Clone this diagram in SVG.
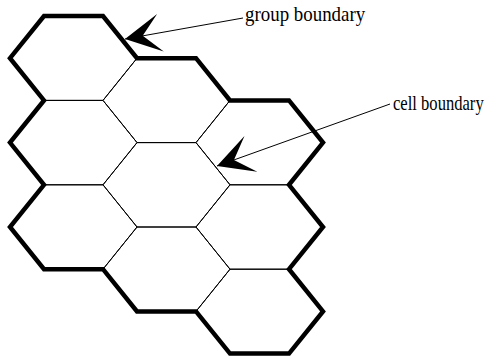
<svg xmlns="http://www.w3.org/2000/svg" width="497" height="359" viewBox="0 0 497 359">
<style>
.cell{fill:none;stroke:#000;stroke-width:1}
.group{fill:none;stroke:#000;stroke-width:4.5;stroke-linejoin:miter}
.lead{fill:none;stroke:#000;stroke-width:1}
.lbl{font-family:"Liberation Serif","DejaVu Serif",serif;font-size:21px;fill:#000}
</style>
<defs>
<marker id="ah" markerUnits="userSpaceOnUse" orient="auto" refX="0" refY="0" markerWidth="40" markerHeight="40" overflow="visible">
<path d="M0,0 L-36,-19 L-18,0 L-36,19 Z" fill="#000"/>
</marker>
</defs>
<rect width="497" height="359" fill="#fff"/>
<g id="cells">
<g id="c00"><polygon class="cell" points="10,58.2 44,16 103,16 137,58.2 103,100.4 44,100.4"/></g>
<g id="c01"><polygon class="cell" points="10,142.6 44,100.4 103,100.4 137,142.6 103,184.8 44,184.8"/></g>
<g id="c02"><polygon class="cell" points="10,227 44,184.8 103,184.8 137,227 103,269.2 44,269.2"/></g>
<g id="c10"><polygon class="cell" points="103,100.4 137,58.2 196,58.2 230,100.4 196,142.6 137,142.6"/></g>
<g id="c11"><polygon class="cell" points="103,184.8 137,142.6 196,142.6 230,184.8 196,227 137,227"/></g>
<g id="c12"><polygon class="cell" points="103,269.2 137,227 196,227 230,269.2 196,311.4 137,311.4"/></g>
<g id="c20"><polygon class="cell" points="196,142.6 230,100.4 289,100.4 323,142.6 289,184.8 230,184.8"/></g>
<g id="c21"><polygon class="cell" points="196,227 230,184.8 289,184.8 323,227 289,269.2 230,269.2"/></g>
<g id="c22"><polygon class="cell" points="196,311.4 230,269.2 289,269.2 323,311.4 289,353.6 230,353.6"/></g>
</g>
<g id="group-outline">
<polygon class="group" points="44,16 103,16 137,58.2 196,58.2 230,100.4 289,100.4 323,142.6 289,184.8 323,227 289,269.2 323,311.4 289,353.6 230,353.6 196,311.4 137,311.4 103,269.2 44,269.2 10,227 44,184.8 10,142.6 44,100.4 10,58.2"/>
</g>
<g id="connectors">
<line class="lead" x1="243" y1="18" x2="125" y2="39" marker-end="url(#ah)"/>
<line class="lead" x1="390" y1="104" x2="217" y2="166" marker-end="url(#ah)"/>
</g>
<g id="label-group"><text class="lbl" transform="translate(245,21) scale(0.9,1)">group boundary</text></g>
<g id="label-cell"><text class="lbl" transform="translate(393,110) scale(0.79,1)">cell boundary</text></g>
</svg>
